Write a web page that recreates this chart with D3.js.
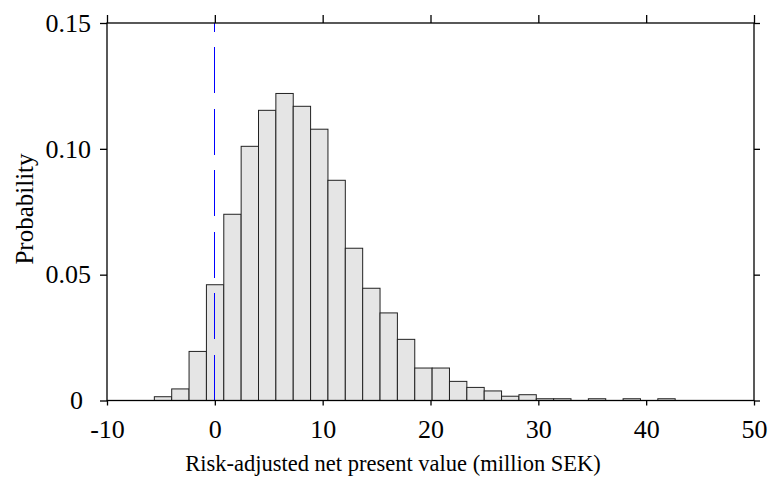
<!DOCTYPE html>
<html>
<head>
<meta charset="utf-8">
<script src="https://cdn.jsdelivr.net/npm/d3@7"></script>
<style>
  body { margin: 0; background: #fff; }
  text { font-family: "Liberation Serif", "Times New Roman", serif; fill: #000; }
</style>
</head>
<body>
<div id="chart"></div>
<script>
// bin edges (million SEK) and probability per bin
var binEdges = [-5.61, -4.00, -2.39, -0.78, 0.83, 2.44, 4.05, 5.66, 7.27, 8.88,
                10.49, 12.10, 13.71, 15.32, 16.93, 18.54, 20.15, 21.76, 23.37, 24.98,
                26.59, 28.20, 29.81, 31.42, 33.03, 34.64, 36.25, 37.86, 39.47, 41.08, 42.69];
var probs = [0.0015, 0.0046, 0.0195, 0.046, 0.074, 0.101, 0.1153, 0.122, 0.1169, 0.1078,
             0.0875, 0.0605, 0.0446, 0.0348, 0.0243, 0.0129, 0.0129, 0.0076, 0.0052, 0.0038,
             0.0017, 0.0023, 0.0007, 0.0007, 0, 0.0007, 0, 0.0007, 0, 0.0007];
var xTicks = [-10, 0, 10, 20, 30, 40, 50];
var xTickLabels = ["-10", "0", "10", "20", "30", "40", "50"];
var yTicks = [0, 0.05, 0.10, 0.15];
var yTickLabels = ["0", "0.05", "0.10", "0.15"];
var refValue = 0;

var width = 773, height = 477;
var margin = {top: 23, right: 19, bottom: 76.5, left: 107};
var w = width - margin.left - margin.right, h = height - margin.top - margin.bottom;

var svg = d3.select('#chart').append('svg')
            .attr('width', width).attr('height', height);
var g = svg.append('g').attr('transform', 'translate(' + margin.left + ',' + margin.top + ')');

var x = d3.scaleLinear().domain([-10, 50]).range([0, w]);
var y = d3.scaleLinear().domain([0, 0.15]).range([h, 0]);

var bins = probs.map(function(p, i) { return {x0: binEdges[i], x1: binEdges[i + 1], p: p}; });

g.selectAll('rect.bar').data(bins).enter().append('rect')
  .attr('class', 'bar')
  .attr('x', function(d) { return x(d.x0); })
  .attr('width', function(d) { return x(d.x1) - x(d.x0); })
  .attr('y', function(d) { return y(d.p); })
  .attr('height', function(d) { return h - y(d.p); })
  .attr('fill', '#e5e5e5')
  .attr('stroke', '#222')
  .attr('stroke-width', 1);

// zero line
g.append('line')
  .attr('x1', x(refValue)).attr('x2', x(refValue))
  .attr('y1', y(0)).attr('y2', y(0.15))
  .attr('stroke', '#0000ff').attr('stroke-width', 1)
  .attr('shape-rendering', 'crispEdges')
  .attr('stroke-dasharray', '46,15.5');

var fs = '26px';

var xAxis = g.append('g').attr('transform', 'translate(0,' + h + ')')
  .call(d3.axisBottom(x).tickValues(xTicks).tickSize(5).tickSizeOuter(0)
    .tickFormat(function(d, i) { return xTickLabels[i]; }));
xAxis.selectAll('text').attr('dy', null).attr('y', 37.5).style('font-size', fs);

g.append('g')
  .call(d3.axisTop(x).tickValues(xTicks).tickSize(8).tickSizeOuter(0).tickFormat(''));

var yAxis = g.append('g')
  .call(d3.axisLeft(y).tickValues(yTicks).tickSize(7).tickPadding(9).tickSizeOuter(0)
    .tickFormat(function(d, i) { return yTickLabels[i]; }));
yAxis.selectAll('text').style('font-size', fs)
  .attr('dx', function(d) { return d === 0 ? -8 : 0; });

g.append('g').attr('transform', 'translate(' + w + ',0)')
  .call(d3.axisRight(y).tickValues(yTicks).tickSize(6).tickSizeOuter(0).tickFormat(''));

g.selectAll('.domain').remove();
g.selectAll('.tick line').attr('stroke', '#000').attr('stroke-width', 1.3);

g.append('rect')
  .attr('width', w).attr('height', h)
  .attr('fill', 'none').attr('stroke', '#000').attr('stroke-width', 1.3);

svg.append('text')
  .attr('x', 393).attr('y', 470.7)
  .attr('text-anchor', 'middle')
  .style('font-size', '22.5px')
  .text('Risk-adjusted net present value (million SEK)');

svg.append('text')
  .attr('transform', 'translate(33,209) rotate(-90)')
  .attr('text-anchor', 'middle')
  .style('font-size', '25px')
  .text('Probability');
</script>
</body>
</html>
